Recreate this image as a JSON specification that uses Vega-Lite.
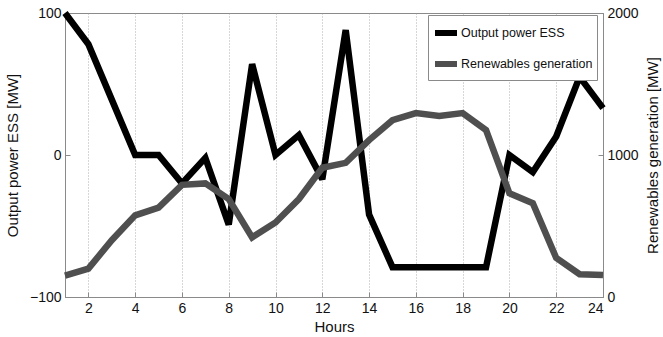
{
  "$schema": "https://vega.github.io/schema/vega-lite/v6.json",
  "width": 538,
  "height": 284,
  "autosize": {"type": "none"},
  "padding": {"left": 65, "top": 13, "right": 60, "bottom": 40},
  "background": "white",
  "config": {
    "font": "Liberation Sans",
    "view": {"stroke": "#8a8a8a", "strokeWidth": 1},
    "axis": {
      "domainColor": "#8a8a8a",
      "tickColor": "#8a8a8a",
      "labelColor": "#111",
      "titleColor": "#111",
      "labelFontSize": 14,
      "titleFontSize": 15,
      "titleFontWeight": "normal",
      "tickSize": -5,
      "labelPadding": 9
    }
  },
  "data": {
    "values": [
      {"hour": 1, "ess": 100, "renewables": 150},
      {"hour": 2, "ess": 78, "renewables": 200},
      {"hour": 3, "ess": 39, "renewables": 400},
      {"hour": 4, "ess": 0, "renewables": 575},
      {"hour": 5, "ess": 0, "renewables": 630},
      {"hour": 6, "ess": -20, "renewables": 790},
      {"hour": 7, "ess": -2, "renewables": 800},
      {"hour": 8, "ess": -49, "renewables": 690},
      {"hour": 9, "ess": 64, "renewables": 420},
      {"hour": 10, "ess": 0, "renewables": 525},
      {"hour": 11, "ess": 14, "renewables": 690},
      {"hour": 12, "ess": -17, "renewables": 910},
      {"hour": 13, "ess": 88, "renewables": 945},
      {"hour": 14, "ess": -42, "renewables": 1105},
      {"hour": 15, "ess": -79, "renewables": 1245},
      {"hour": 16, "ess": -79, "renewables": 1295},
      {"hour": 17, "ess": -79, "renewables": 1275},
      {"hour": 18, "ess": -79, "renewables": 1295},
      {"hour": 19, "ess": -79, "renewables": 1175},
      {"hour": 20, "ess": 0, "renewables": 730},
      {"hour": 21, "ess": -12, "renewables": 660},
      {"hour": 22, "ess": 13, "renewables": 275},
      {"hour": 23, "ess": 55, "renewables": 160},
      {"hour": 24, "ess": 33, "renewables": 155}
    ]
  },
  "encoding": {
    "x": {
      "field": "hour",
      "type": "quantitative",
      "title": "Hours",
      "scale": {"domain": [1, 24], "nice": false, "zero": false},
      "axis": {
        "values": [2, 4, 6, 8, 10, 12, 14, 16, 18, 20, 22, 24],
        "grid": true,
        "gridColor": "#9a9a9a",
        "gridDash": [1, 2],
        "gridWidth": 0.8,
        "titlePadding": 4
      }
    }
  },
  "layer": [
    {
      "mark": {"type": "line", "strokeWidth": 6.5, "strokeJoin": "miter", "strokeMiterLimit": 3},
      "encoding": {
        "y": {
          "field": "ess",
          "type": "quantitative",
          "title": "Output power ESS [MW]",
          "scale": {"domain": [-100, 100], "nice": false},
          "axis": {"values": [-100, 0, 100], "grid": false, "titlePadding": 9}
        },
        "color": {
          "datum": "Output power ESS",
          "type": "nominal",
          "scale": {
            "domain": ["Output power ESS", "Renewables generation"],
            "range": ["#000000", "#4f4f4f"]
          },
          "legend": {
            "title": null,
            "orient": "none",
            "legendX": 363,
            "legendY": 2,
            "symbolType": "stroke",
            "symbolSize": 484,
            "symbolStrokeWidth": 6,
            "labelFontSize": 12.5,
            "labelColor": "#111",
            "labelOffset": 1,
            "rowPadding": 5,
            "padding": 4,
            "strokeColor": "#8a8a8a",
            "fillColor": "white"
          }
        }
      }
    },
    {
      "mark": {"type": "line", "strokeWidth": 6.5, "strokeJoin": "miter", "strokeMiterLimit": 3},
      "encoding": {
        "y": {
          "field": "renewables",
          "type": "quantitative",
          "title": "Renewables generation [MW]",
          "scale": {"domain": [0, 2000], "nice": false},
          "axis": {
            "orient": "right",
            "values": [0, 1000, 2000],
            "format": "d",
            "grid": false,
            "titleAngle": 270,
            "titleBaseline": "top",
            "titlePadding": 7
          }
        },
        "color": {"datum": "Renewables generation", "type": "nominal"}
      }
    }
  ],
  "resolve": {"scale": {"y": "independent"}}
}
